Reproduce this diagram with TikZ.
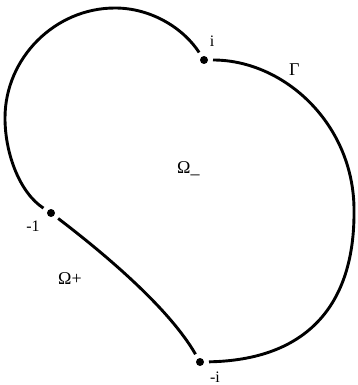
\documentclass[tikz,border=0pt]{standalone}
\usepackage{fontspec}
\setmainfont{Liberation Serif}
\begin{document}
\begin{tikzpicture}[x=1pt,y=-1pt,
  curve/.style={line width=2.9pt},
  dot/.style={circle,fill=black,inner sep=0pt,minimum size=8pt,outer sep=5pt},
  lbl/.style={inner sep=0pt,anchor=base,font=\fontsize{16}{19}\selectfont},
  glbl/.style={inner sep=0pt,anchor=base west,font=\fontsize{18}{21}\selectfont}]
\useasboundingbox (0,0) rectangle (357,385);
\node[dot] (pi) at (204,60) {};
\node[dot] (pm1) at (51,213) {};
\node[dot] (pmi) at (200,362) {};
\coordinate (top) at (115,8);
\coordinate (lft) at (5,118);
\coordinate (rgt) at (354,210);
\draw[curve] (pi) .. controls (184,29) and (152,8) .. (top)
  .. controls (55,8) and (5,58) .. (lft)
  .. controls (5,154) and (20,193) .. (pm1);
\draw[curve] (pm1) .. controls (110,258) and (170,310) .. (pmi);
\draw[curve] (pi) .. controls (285,60) and (354,125) .. (rgt)
  .. controls (355,306) and (306,360) .. (pmi);
\node[lbl] (li) at (212,47) {i};
\node[lbl] (lm1) at (33,231) {-1};
\node[lbl] (lmi) at (215,382) {-i};
\node[glbl] (lg) at (289,76) {Γ};
\node[glbl] (lom) at (177,173) {Ω\_};
\node[glbl] (lop) at (58,284) {Ω+};
\end{tikzpicture}
\end{document}
